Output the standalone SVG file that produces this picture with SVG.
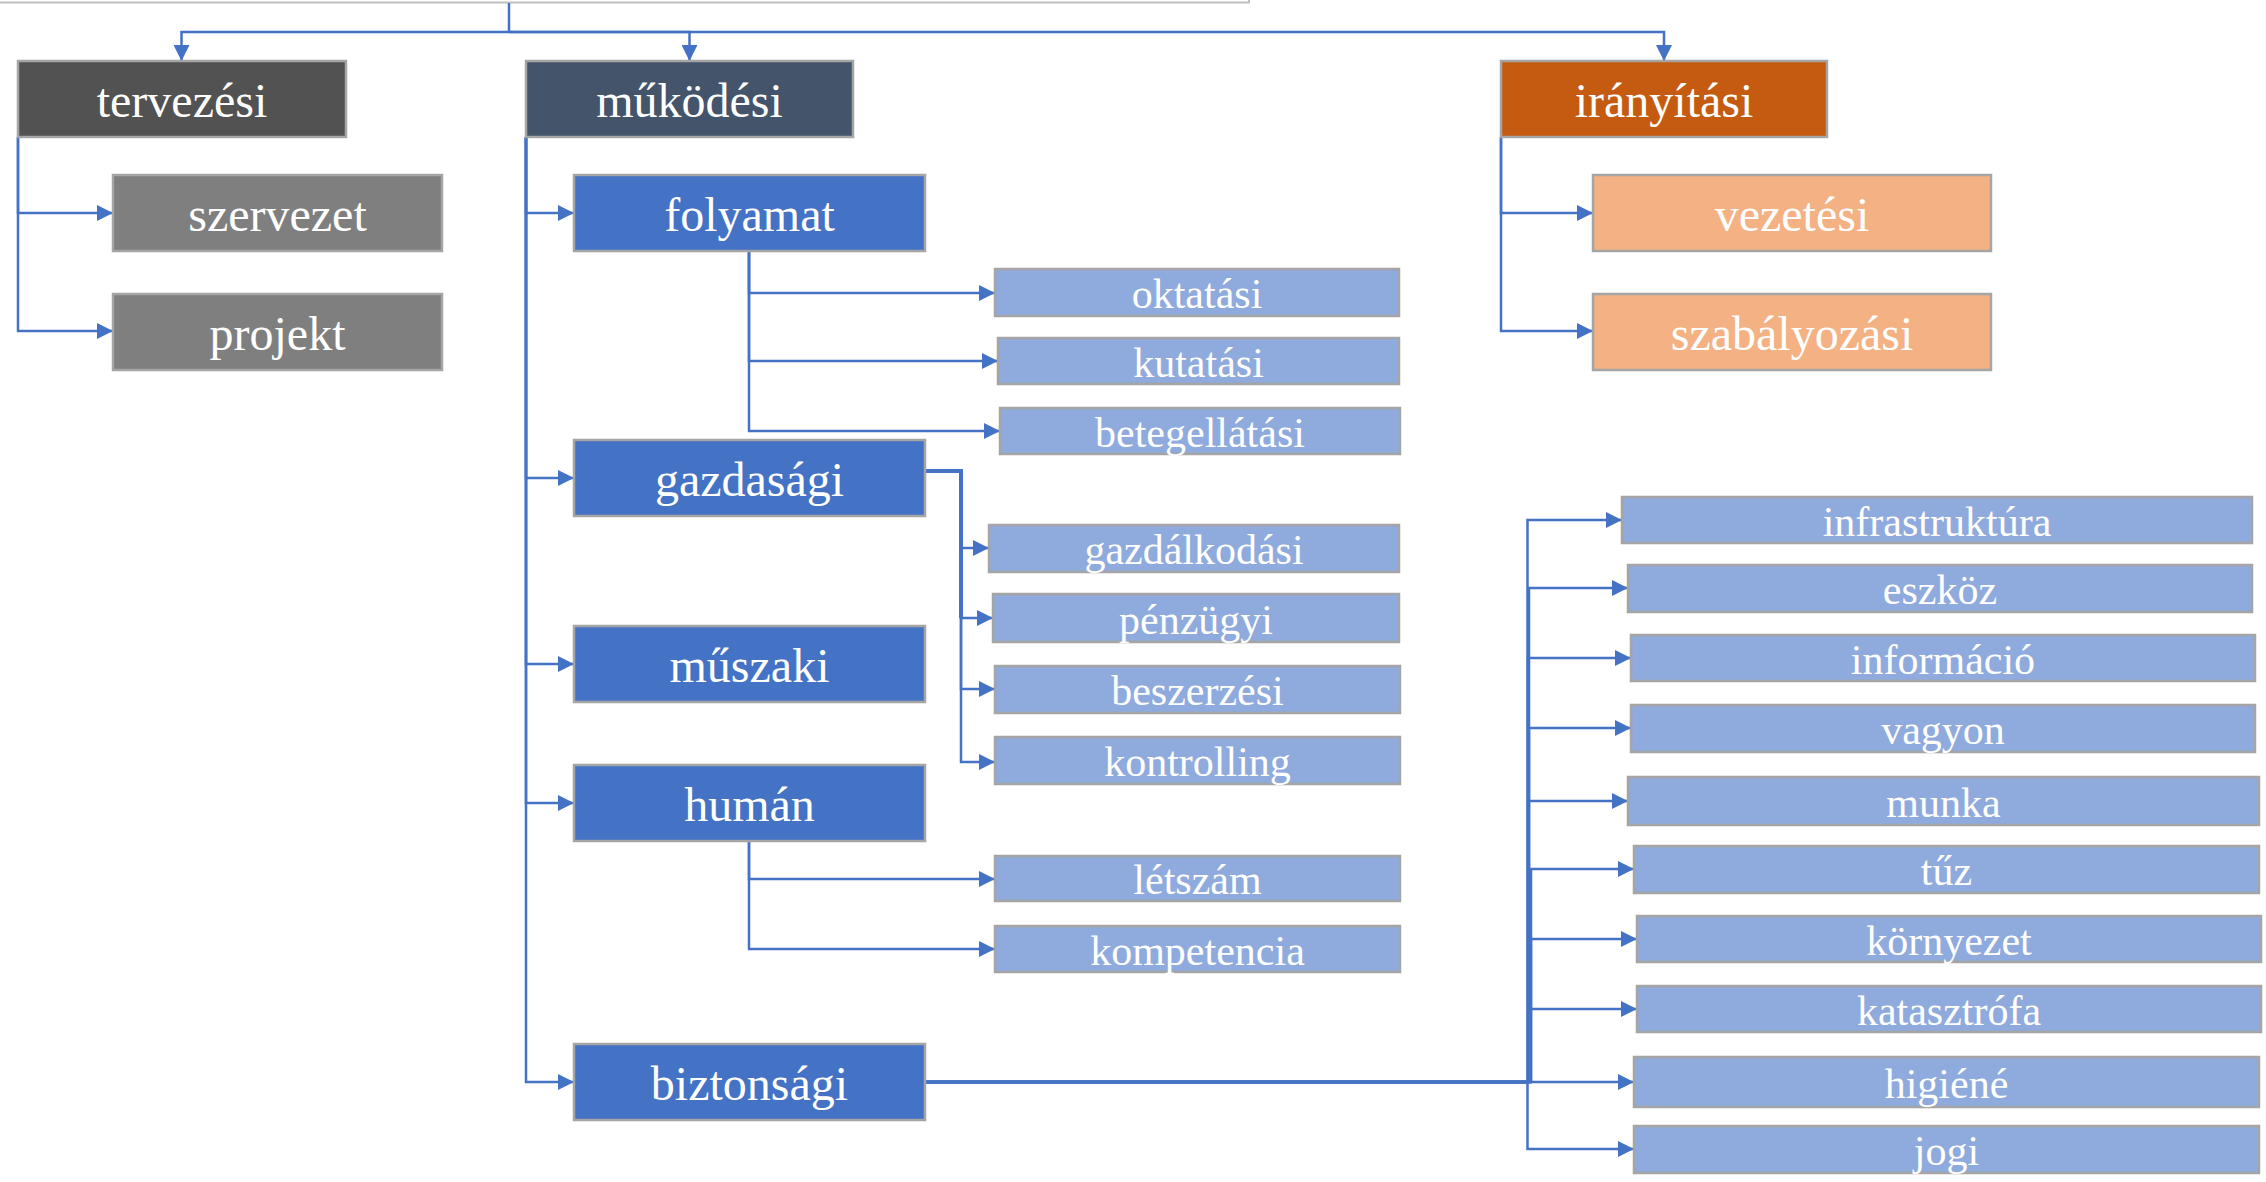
<svg xmlns="http://www.w3.org/2000/svg" width="2266" height="1182" viewBox="0 0 2266 1182">
<defs>
<marker id="arr" markerUnits="userSpaceOnUse" markerWidth="16" markerHeight="16" viewBox="0 0 16 16" refX="16" refY="8" orient="auto">
<path d="M0,0 L16,8 L0,16 Z" fill="#4472C4"/>
</marker>
</defs>
<style>
rect.n{stroke:#A5A5A5;stroke-width:2.5}
.l1{fill:#525252}
.l1b{fill:#44546A}
.l1c{fill:#C55A11}
.g2{fill:#7F7F7F}
.b2{fill:#4472C4}
.o2{fill:#F4B183}
.b3{fill:#8FAADC}
text{font-family:"Liberation Serif","Times New Roman",serif;fill:#FFFFFF;text-anchor:middle}
text.t48{font-size:48px}
text.t42{font-size:42px}
#connectors path{fill:none;stroke:#4472C4;stroke-width:2.5}
#connectors path.a{marker-end:url(#arr)}
</style>
<rect width="2266" height="1182" fill="#FFFFFF"/>
<rect x="-10" y="-60" width="1259" height="62.5" fill="#FFFFFF" stroke="#BFBFBF" stroke-width="2"/>

<g id="connectors">
<path d="M509,3 V32"/>
<path class="a" d="M509,32 H181.5 V61"/>
<path class="a" d="M509,32 H689.5 V61"/>
<path class="a" d="M509,32 H1664 V61"/>
<path class="a" d="M18,137 V213 H113"/>
<path class="a" d="M18,137 V331 H113"/>
<path class="a" d="M526,137 V213 H574"/>
<path class="a" d="M526,137 V478 H574"/>
<path class="a" d="M526,137 V664 H574"/>
<path class="a" d="M526,137 V803 H574"/>
<path class="a" d="M526,137 V1082 H574"/>
<path class="a" d="M749,251 V293 H995"/>
<path class="a" d="M749,251 V361 H998"/>
<path class="a" d="M749,251 V431 H1000"/>
<path class="a" d="M1501,137 V213 H1593"/>
<path class="a" d="M1501,137 V331 H1593"/>
<path d="M925,471 H961 V618" style="stroke-width:4"/>
<path class="a" d="M961,471 V548 H989"/>
<path class="a" d="M961,471 V618 H993"/>
<path class="a" d="M961,600 V689 H995"/>
<path class="a" d="M961,600 V762 H995"/>
<path class="a" d="M749,841 V879 H995"/>
<path class="a" d="M749,841 V949 H995"/>
<path class="a" d="M925,1082 H1527.5 V520 H1622"/>
<path class="a" d="M925,1082 H1529 V588 H1628"/>
<path class="a" d="M925,1082 H1528 V658 H1631"/>
<path class="a" d="M925,1082 H1529 V728 H1631"/>
<path class="a" d="M925,1082 H1528 V801 H1628"/>
<path class="a" d="M925,1082 H1531 V869 H1634"/>
<path class="a" d="M925,1082 H1531 V939 H1637"/>
<path class="a" d="M925,1082 H1530 V1009 H1637"/>
<path class="a" d="M925,1082 H1634"/>
<path class="a" d="M925,1082 H1527.5 V1149 H1634"/>
</g>

<g id="tervezesi"><rect class="n l1" x="18" y="61" width="328" height="76"/><text class="t48" x="182" y="117">tervezési</text></g>
<g id="mukodesi"><rect class="n l1b" x="526" y="61" width="327" height="76"/><text class="t48" x="689.5" y="117">működési</text></g>
<g id="iranyitasi"><rect class="n l1c" x="1501" y="61" width="326" height="76"/><text class="t48" x="1664" y="117">irányítási</text></g>

<g id="szervezet"><rect class="n g2" x="113" y="175" width="329" height="76"/><text class="t48" x="277.5" y="231">szervezet</text></g>
<g id="projekt"><rect class="n g2" x="113" y="294" width="329" height="76"/><text class="t48" x="277.5" y="350">projekt</text></g>

<g id="folyamat"><rect class="n b2" x="574" y="175" width="351" height="76"/><text class="t48" x="749.5" y="231">folyamat</text></g>
<g id="gazdasagi"><rect class="n b2" x="574" y="440" width="351" height="76"/><text class="t48" x="749.5" y="496">gazdasági</text></g>
<g id="muszaki"><rect class="n b2" x="574" y="626" width="351" height="76"/><text class="t48" x="749.5" y="682">műszaki</text></g>
<g id="human"><rect class="n b2" x="574" y="765" width="351" height="76"/><text class="t48" x="749.5" y="821">humán</text></g>
<g id="biztonsagi"><rect class="n b2" x="574" y="1044" width="351" height="76"/><text class="t48" x="749.5" y="1100">biztonsági</text></g>

<g id="vezetesi"><rect class="n o2" x="1593" y="175" width="398" height="76"/><text class="t48" x="1792" y="231">vezetési</text></g>
<g id="szabalyozasi"><rect class="n o2" x="1593" y="294" width="398" height="76"/><text class="t48" x="1792" y="350">szabályozási</text></g>

<g id="oktatasi"><rect class="n b3" x="995" y="269" width="404" height="47"/><text class="t42" x="1197" y="308">oktatási</text></g>
<g id="kutatasi"><rect class="n b3" x="998" y="338" width="401" height="46"/><text class="t42" x="1198.5" y="377">kutatási</text></g>
<g id="betegellatasi"><rect class="n b3" x="1000" y="408" width="400" height="46"/><text class="t42" x="1200" y="447">betegellátási</text></g>

<g id="gazdalkodasi"><rect class="n b3" x="989" y="525" width="410" height="47"/><text class="t42" x="1194" y="564">gazdálkodási</text></g>
<g id="penzugyi"><rect class="n b3" x="993" y="594" width="406" height="48"/><text class="t42" x="1196" y="634">pénzügyi</text></g>
<g id="beszerzesi"><rect class="n b3" x="995" y="666" width="405" height="47"/><text class="t42" x="1197.5" y="705">beszerzési</text></g>
<g id="kontrolling"><rect class="n b3" x="995" y="737" width="405" height="47"/><text class="t42" x="1197.5" y="776">kontrolling</text></g>

<g id="letszam"><rect class="n b3" x="995" y="856" width="405" height="45"/><text class="t42" x="1197.5" y="894">létszám</text></g>
<g id="kompetencia"><rect class="n b3" x="995" y="926" width="405" height="46"/><text class="t42" x="1197.5" y="965">kompetencia</text></g>

<g id="infrastruktura"><rect class="n b3" x="1622" y="497" width="630" height="46"/><text class="t42" x="1937" y="536">infrastruktúra</text></g>
<g id="eszkoz"><rect class="n b3" x="1628" y="565" width="624" height="47"/><text class="t42" x="1940" y="604">eszköz</text></g>
<g id="informacio"><rect class="n b3" x="1631" y="635" width="624" height="46"/><text class="t42" x="1943" y="674">információ</text></g>
<g id="vagyon"><rect class="n b3" x="1631" y="705" width="624" height="47"/><text class="t42" x="1943" y="744">vagyon</text></g>
<g id="munka"><rect class="n b3" x="1628" y="777" width="631" height="48"/><text class="t42" x="1943.5" y="817">munka</text></g>
<g id="tuz"><rect class="n b3" x="1634" y="846" width="625" height="47"/><text class="t42" x="1946.5" y="885">tűz</text></g>
<g id="kornyezet"><rect class="n b3" x="1637" y="916" width="624" height="46"/><text class="t42" x="1949" y="955">környezet</text></g>
<g id="katasztrofa"><rect class="n b3" x="1637" y="986" width="624" height="46"/><text class="t42" x="1949" y="1025">katasztrófa</text></g>
<g id="higiene"><rect class="n b3" x="1634" y="1057" width="625" height="50"/><text class="t42" x="1946.5" y="1098">higiéné</text></g>
<g id="jogi"><rect class="n b3" x="1634" y="1126" width="625" height="47"/><text class="t42" x="1946.5" y="1165">jogi</text></g>
</svg>
